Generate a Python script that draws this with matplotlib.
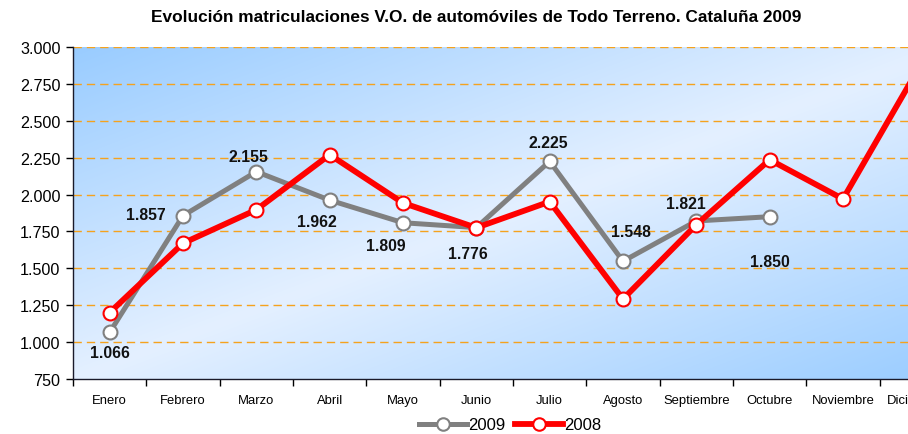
import matplotlib
matplotlib.use('Agg')
import matplotlib.pyplot as plt
import numpy as np
from matplotlib.ticker import FuncFormatter
from matplotlib.lines import Line2D

months = ['Enero', 'Febrero', 'Marzo', 'Abril', 'Mayo', 'Junio', 'Julio',
          'Agosto', 'Septiembre', 'Octubre', 'Noviembre', 'Diciembre']
v2009 = [1066, 1857, 2155, 1962, 1809, 1776, 2225, 1548, 1821, 1850]
v2008 = [1200, 1670, 1897, 2270, 1943, 1775, 1952, 1292, 1796, 2236, 1970, 2830]
series_names = ['2009', '2008']
title = 'Evolución matriculaciones V.O. de automóviles de Todo Terreno. Cataluña 2009'
yticks = [750, 1000, 1250, 1500, 1750, 2000, 2250, 2500, 2750, 3000]

# label offsets (pixels) for the 2009 data labels
label_offsets = [(0, -20), (-37, 1), (-8, 15), (-13, -21), (-17, -23),
                 (-8, -26), (-1, 19), (8, 30), (-10, 17), (0, -45)]


def thousands(v, p=None):
    return f'{int(round(v)):,}'.replace(',', '.')


plt.rcParams['font.family'] = ['Liberation Sans', 'DejaVu Sans']

fig = plt.figure(figsize=(9.08, 4.35), dpi=100)
ax = fig.add_axes([73 / 908, 55 / 435, 880 / 908, 332 / 435])

# diagonal gradient background
n = 300
xx, yy = np.meshgrid(np.linspace(0, 1, n), np.linspace(1, 0, n))
u = (xx + (1 - yy)) / 2
t = np.abs(u - 0.5) * 2
dark = np.array([153, 204, 255]) / 255
light = np.array([228, 240, 255]) / 255
img = light + (dark - light) * t[..., None]
ax.imshow(img, extent=[0, 1, 0, 1], transform=ax.transAxes, aspect='auto',
          zorder=0, interpolation='bilinear')

for y in yticks[1:]:
    ax.axhline(y, color='#F5A21E', lw=1.0, ls=(0, (6, 3.6)), zorder=1)

x09 = np.arange(len(v2009))
x08 = np.arange(len(v2008))
ax.plot(x09, v2009, color='#808080', lw=3.6, marker='o', ms=10,
        mfc='white', mec='#808080', mew=1.5, zorder=3, solid_joinstyle='round')
ax.plot(x08, v2008, color='#FF0000', lw=4.2, marker='o', ms=10,
        mfc='white', mec='#FF0000', mew=1.5, zorder=4, solid_joinstyle='round')

for xi, v, off in zip(x09, v2009, label_offsets):
    ax.annotate(thousands(v), (xi, v), xytext=off, textcoords='offset pixels',
                ha='center', va='center', fontsize=11.3, fontweight='bold',
                color='#111111', zorder=5)

ax.set_xlim(-0.5, 11.5)
ax.set_ylim(750, 3000)
ax.set_yticks(yticks)
ax.yaxis.set_major_formatter(FuncFormatter(thousands))
ax.tick_params(axis='y', direction='out', length=5, width=1, labelsize=11.6, pad=4)
ax.set_xticks(np.arange(12))
ax.set_xticklabels(months)
ax.set_xticks(np.arange(-0.5, 12, 1), minor=True)
ax.tick_params(axis='x', which='major', length=0, labelsize=9.4, pad=11)
ax.tick_params(axis='x', which='minor', direction='out', length=5, width=1)

for s in ['top', 'right']:
    ax.spines[s].set_visible(False)
for s in ['left', 'bottom']:
    ax.spines[s].set_color('#1a1a2a')
    ax.spines[s].set_linewidth(1.0)

fig.text(476 / 908, 1 - 18 / 435, title, ha='center', va='center',
         fontweight='bold', fontsize=12.4)

handles = [
    Line2D([], [], color='#808080', lw=3.6, marker='o', ms=9, mfc='white',
           mec='#808080', mew=1.5),
    Line2D([], [], color='#FF0000', lw=4.2, marker='o', ms=9, mfc='white',
           mec='#FF0000', mew=1.5),
]
fig.legend(handles, series_names, loc='center', bbox_to_anchor=(510 / 908, 1 - 426 / 435),
           ncol=2, frameon=False, fontsize=12, handlelength=2.9,
           handletextpad=0.05, columnspacing=0.6, borderpad=0)

fig.savefig('out.png', dpi=100)
